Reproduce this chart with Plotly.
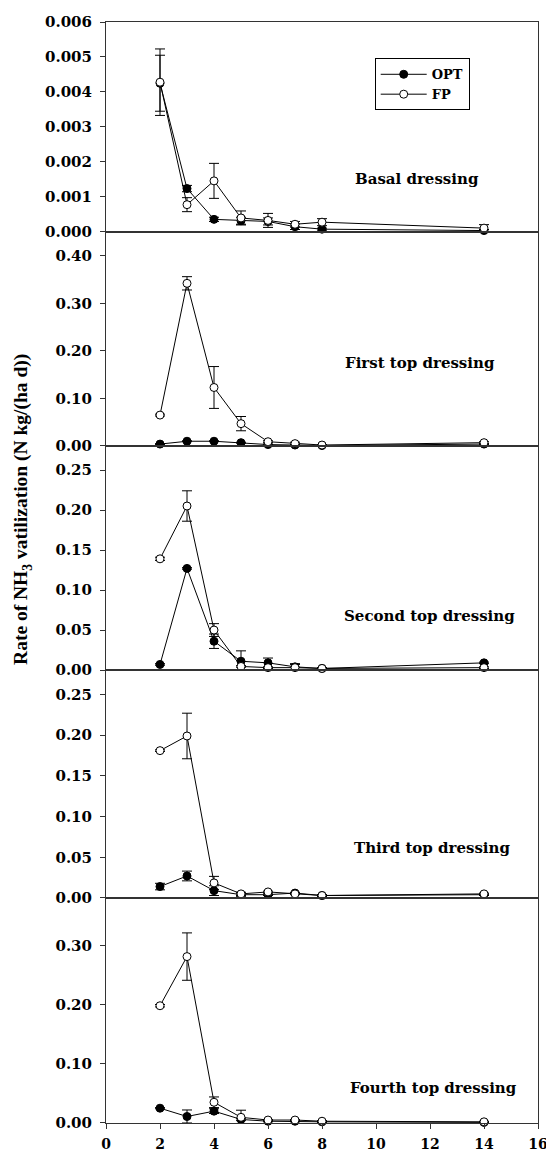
import plotly.graph_objects as go

days = [2, 3, 4, 5, 6, 7, 8, 14]

panel_names = ["Basal dressing", "First top dressing", "Second top dressing",
               "Third top dressing", "Fourth top dressing"]

opt_basal = [0.00425, 0.00124, 0.00036, 0.00032, 0.00030, 0.00015, 0.00008, 0.00004]
opt_basal_err = [0.0008, 0.00009, 0.00006, 0.00010, 0.00010, 0.00008, 0.00003, 0.00003]
fp_basal = [0.00428, 0.00078, 0.00146, 0.00040, 0.00033, 0.00022, 0.00028, 0.00011]
fp_basal_err = [0.00095, 0.0002, 0.0005, 0.0002, 0.0002, 0.00008, 0.0001, 0.0001]

opt_first = [0.004, 0.010, 0.010, 0.007, 0.003, 0.002, 0.001, 0.004]
opt_first_err = [0.001, 0.001, 0.001, 0.001, 0.001, 0.001, 0.0005, 0.001]
fp_first = [0.065, 0.342, 0.123, 0.047, 0.009, 0.005, 0.002, 0.007]
fp_first_err = [0.002, 0.014, 0.044, 0.015, 0.002, 0.003, 0.001, 0.002]

opt_second = [0.007, 0.127, 0.036, 0.011, 0.009, 0.004, 0.002, 0.009]
opt_second_err = [0.001, 0.001, 0.009, 0.013, 0.006, 0.004, 0.001, 0.001]
fp_second = [0.139, 0.205, 0.050, 0.0045, 0.003, 0.003, 0.002, 0.003]
fp_second_err = [0.002, 0.019, 0.008, 0.001, 0.001, 0.004, 0.001, 0.001]

opt_third = [0.014, 0.027, 0.009, 0.004, 0.004, 0.006, 0.003, 0.004]
opt_third_err = [0.004, 0.006, 0.006, 0.002, 0.001, 0.001, 0.001, 0.001]
fp_third = [0.181, 0.199, 0.0185, 0.005, 0.0074, 0.005, 0.003, 0.005]
fp_third_err = [0.001, 0.028, 0.008, 0.002, 0.001, 0.001, 0.001, 0.001]

opt_fourth = [0.025, 0.011, 0.020, 0.006, 0.003, 0.003, 0.002, 0.001]
opt_fourth_err = [0.001, 0.011, 0.004, 0.002, 0.001, 0.001, 0.001, 0.001]
fp_fourth = [0.198, 0.281, 0.035, 0.0096, 0.005, 0.005, 0.003, 0.002]
fp_fourth_err = [0.002, 0.040, 0.009, 0.012, 0.001, 0.001, 0.001, 0.001]

opt_all = [opt_basal, opt_first, opt_second, opt_third, opt_fourth]
opt_err_all = [opt_basal_err, opt_first_err, opt_second_err, opt_third_err, opt_fourth_err]
fp_all = [fp_basal, fp_first, fp_second, fp_third, fp_fourth]
fp_err_all = [fp_basal_err, fp_first_err, fp_second_err, fp_third_err, fp_fourth_err]

y_ranges = [[0, 0.006], [0, 0.45], [0, 0.28], [0, 0.28], [0, 0.38]]
y_dticks = [0.001, 0.1, 0.05, 0.05, 0.1]
y_formats = [".3f", ".2f", ".2f", ".2f", ".2f"]

x_ticks = [0, 2, 4, 6, 8, 10, 12, 14, 16]

FONT = "DejaVu Serif, Liberation Serif, serif"
TFONT = "Liberation Serif, Times New Roman, serif"
LINE = "#333333"

# layout geometry (paper fractions)
domains = [[0.8093, 1.0], [0.6149, 0.8093], [0.4114, 0.6149], [0.2044, 0.4114], [0.0, 0.2044]]
label_pos = [(0.720, 0.857), (0.728, 0.690), (0.748, 0.4605), (0.755, 0.2498), (0.757, 0.0318)]

fig = go.Figure()
layout = {}
annotations = []
for i in range(5):
    n = i + 1
    xs = "x" if n == 1 else f"x{n}"
    ys = "y" if n == 1 else f"y{n}"
    fig.add_trace(go.Scatter(
        x=days, y=opt_all[i], xaxis=xs, yaxis=ys, mode="lines+markers",
        name="OPT", showlegend=(i == 0), cliponaxis=False,
        line=dict(color="black", width=1),
        marker=dict(symbol="circle", size=8, color="black", line=dict(color="black", width=1)),
        error_y=dict(type="data", array=opt_err_all[i], color="black", thickness=1, width=5),
    ))
    fig.add_trace(go.Scatter(
        x=days, y=fp_all[i], xaxis=xs, yaxis=ys, mode="lines+markers",
        name="FP", showlegend=(i == 0), cliponaxis=False,
        line=dict(color="black", width=1),
        marker=dict(symbol="circle", size=8, color="white", line=dict(color="black", width=1)),
        error_y=dict(type="data", array=fp_err_all[i], color="black", thickness=1, width=5),
    ))
    xkey = "xaxis" if n == 1 else f"xaxis{n}"
    ykey = "yaxis" if n == 1 else f"yaxis{n}"
    bottom = (n == 5)
    layout[xkey] = dict(
        range=[0, 16], anchor=ys, domain=[0, 1], tickmode="array", tickvals=x_ticks,
        showticklabels=bottom, ticks="outside" if bottom else "", ticklen=5,
        tickcolor=LINE, showline=True, linecolor=LINE, linewidth=1, mirror=True,
        showgrid=False, zeroline=False, automargin=False, ticklabelstandoff=3,
        ticklabeloverflow="allow",
        tickfont=dict(family=FONT, size=14, color="black", weight="bold"),
        **({} if n == 5 else {"matches": "x5"}),
    )
    layout[ykey] = dict(
        range=y_ranges[i], domain=domains[i], anchor=xs, dtick=y_dticks[i], tick0=0,
        tickformat=y_formats[i], ticks="outside", ticklen=5, tickcolor=LINE,
        showline=True, linecolor=LINE, linewidth=1, mirror=True,
        showgrid=False, zeroline=False, ticklabelstandoff=5, automargin=False,
        tickfont=dict(family=FONT, size=15, color="black", weight="bold"),
    )
    annotations.append(dict(
        text=panel_names[i], xref="paper", yref="paper",
        x=label_pos[i][0], y=label_pos[i][1], showarrow=False,
        xanchor="center", yanchor="middle",
        font=dict(family=FONT, size=15, color="black", weight="bold"),
    ))

annotations.append(dict(
    text="Rate of NH<sub>3</sub> vatilization (N kg/(ha d))",
    xref="paper", yref="paper", x=-0.194, y=0.557, textangle=-90,
    showarrow=False, xanchor="center", yanchor="middle",
    font=dict(family=TFONT, size=19.5, color="black", weight="bold"),
))

# the page body adds an 8px offset, so the figure is drawn 8px smaller
fig.update_layout(
    width=546, height=1146,
    margin=dict(l=98, r=16, t=14, b=31, autoexpand=False),
    paper_bgcolor="white", plot_bgcolor="white",
    font=dict(family=FONT, color="black"),
    showlegend=True,
    legend=dict(
        x=0.622, y=0.967, xanchor="left", yanchor="top",
        bordercolor="black", borderwidth=1, bgcolor="white",
        font=dict(family=FONT, size=13, color="black", weight="bold"),
        itemwidth=46, tracegroupgap=0,
    ),
    annotations=annotations,
    **layout,
)

fig.write_html("out.html")
